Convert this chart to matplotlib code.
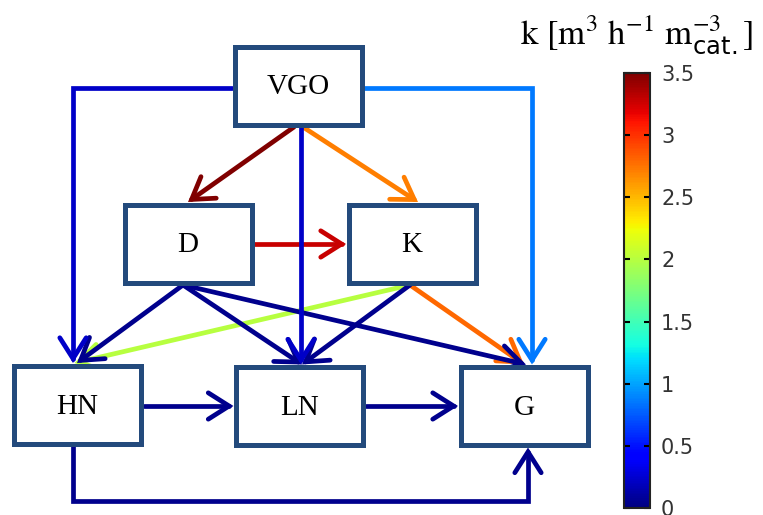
import numpy as np
import matplotlib
matplotlib.use("Agg")
import matplotlib.pyplot as plt
from matplotlib.patches import Rectangle, FancyArrowPatch, ArrowStyle
from matplotlib.path import Path
from matplotlib import cm, colors

plt.rcParams["mathtext.fontset"] = "custom"
plt.rcParams["mathtext.rm"] = "STIXGeneral"
plt.rcParams["mathtext.it"] = "STIXGeneral:italic"
plt.rcParams["mathtext.sf"] = "DejaVu Sans"

# lumps in the cracking network
lumps = ["VGO", "D", "K", "HN", "LN", "G"]
# box centres, in pixels from top-left
lump_x = [298, 188, 412, 77.5, 299.5, 524]
lump_y = [85.5, 243.5, 243.5, 404.5, 406, 406]

# rate constants k [m3 h-1 m-3 cat.]
k_vgo = {"HN": 0.23, "LN": 0.23, "G": 0.85, "D": 3.5, "K": 2.72}
k_d = {"K": 3.27, "HN": 0.05, "LN": 0.05, "G": 0.05}
k_k = {"HN": 2.0, "LN": 0.05, "G": 2.8}
k_hn = {"LN": 0.05, "G": 0.05}
k_ln = {"G": 0.05}

cbar_ticks = [0, 0.5, 1, 1.5, 2, 2.5, 3, 3.5]

W, H = 763, 515
BW, BH = 132, 83
box_edge = "#234a7c"

pos = dict(zip(lumps, zip(lump_x, lump_y)))


def port(n, side, off=0):
    cx, cy = pos[n]
    if side == "top":
        return (cx + off, cy - BH / 2)
    if side == "bottom":
        return (cx + off, cy + BH / 2)
    if side == "left":
        return (cx - BW / 2, cy + off)
    return (cx + BW / 2, cy + off)


# routes for each reaction
routes = {
    ("VGO", "HN"): [port("VGO", "left", 2.5), (73, port("VGO", "left", 2.5)[1]), port("HN", "top", -4.5)],
    ("VGO", "LN"): [port("VGO", "bottom", 3), port("LN", "top", 1.5)],
    ("VGO", "G"): [port("VGO", "right", 2.5), (532, port("VGO", "right", 2.5)[1]), port("G", "top", 8)],
    ("VGO", "D"): [port("VGO", "bottom", -4), port("D", "top", 0)],
    ("VGO", "K"): [port("VGO", "bottom", 5), port("K", "top", 6)],
    ("D", "K"): [port("D", "right", 0.5), port("K", "left", 0.5)],
    ("D", "HN"): [port("D", "bottom", -5), port("HN", "top", -0.5)],
    ("D", "LN"): [port("D", "bottom", -5), port("LN", "top", 2.5)],
    ("D", "G"): [port("D", "bottom", -5), port("G", "top", 2)],
    ("K", "HN"): [port("K", "bottom", -2), port("HN", "top", -3)],
    ("K", "LN"): [port("K", "bottom", -2), port("LN", "top", 2.5)],
    ("K", "G"): [port("K", "bottom", -2), port("G", "top", 0)],
    ("HN", "LN"): [port("HN", "right", 1.5), port("LN", "left", 0)],
    ("LN", "G"): [port("LN", "right", 0), port("G", "left", 0)],
    ("HN", "G"): [port("HN", "bottom", -4.5), (73, 501), (528, 501), port("G", "bottom", 4)],
}

rates = {}
for src, d in [("VGO", k_vgo), ("D", k_d), ("K", k_k), ("HN", k_hn), ("LN", k_ln)]:
    for dst, k in d.items():
        rates[(src, dst)] = k

norm = colors.Normalize(0, 3.5)
cmap = plt.get_cmap("jet")

fig = plt.figure(figsize=(W / 100, H / 100), dpi=100)
ax = fig.add_axes([0, 0, 1, 1])
ax.set_xlim(0, W)
ax.set_ylim(H, 0)
ax.axis("off")

style = ArrowStyle("->", head_length=15, head_width=9.5)
draw_order = [("VGO", "D"), ("VGO", "K"), ("D", "K"), ("K", "HN"), ("K", "G"), ("VGO", "G"),
              ("D", "HN"), ("D", "LN"), ("D", "G"), ("K", "LN"), ("VGO", "HN"), ("VGO", "LN"),
              ("HN", "LN"), ("LN", "G"), ("HN", "G")]
for key in draw_order:
    pts = routes[key]
    codes = [Path.MOVETO] + [Path.LINETO] * (len(pts) - 1)
    arr = FancyArrowPatch(path=Path(pts, codes), arrowstyle=style, mutation_scale=1,
                          color=cmap(norm(rates[key])), lw=3.4, capstyle="round",
                          joinstyle="miter", zorder=2)
    ax.add_patch(arr)

for n in lumps:
    cx, cy = pos[n]
    ax.add_patch(Rectangle((cx - BW / 2 + 2.5, cy - BH / 2 + 2.5), BW - 5, BH - 5,
                           facecolor="white", edgecolor=box_edge, lw=3.6, zorder=3))
    ax.text(cx, cy + 2, n, ha="center", va="center", fontsize=21,
            family="Liberation Serif", zorder=4)

# colour scale
cax = fig.add_axes([624 / W, 1 - 508 / H, 26 / W, 435 / H])
sm = cm.ScalarMappable(norm=norm, cmap=cmap)
cb = fig.colorbar(sm, cax=cax, ticks=cbar_ticks)
cb.ax.set_yticklabels([f"{v:g}" for v in cbar_ticks])
cb.ax.tick_params(direction="in", left=True, right=True, length=4, width=1.5,
                  labelsize=15, labelcolor="#333333", pad=8)
cb.outline.set_linewidth(1.5)
cb.outline.set_edgecolor("#222222")

fig.text(637 / W, 1 - 44 / H, r"k [m$^{3}$ h$^{-1}$ m$_{\mathsf{cat.}}^{-3}$]",
         ha="center", va="baseline", fontsize=25, family="STIXGeneral")

fig.savefig("out.png", dpi=100)
